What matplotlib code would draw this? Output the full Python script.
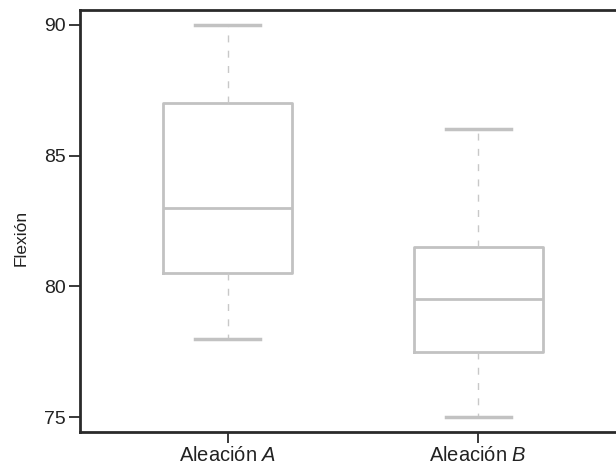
import matplotlib
import matplotlib.pyplot as plt

matplotlib.use('Agg')

plt.rcParams['font.family'] = ['Liberation Sans', 'DejaVu Sans']
plt.rcParams['mathtext.fontset'] = 'custom'
plt.rcParams['mathtext.rm'] = 'Liberation Sans'
plt.rcParams['mathtext.it'] = 'Liberation Sans:italic'

# box statistics
labels = ['Aleación $\\mathit{A}$', 'Aleación $\\mathit{B}$']
whislo = [78, 75]
q1 = [80.5, 77.5]
med = [83, 79.5]
q3 = [87, 81.5]
whishi = [90, 86]
yticks = [75, 80, 85, 90]

stats = []
for i in range(len(labels)):
    stats.append({'label': labels[i], 'whislo': whislo[i], 'q1': q1[i],
                  'med': med[i], 'q3': q3[i], 'whishi': whishi[i], 'fliers': []})

fig = plt.figure(figsize=(6.16, 4.68), dpi=100)
ax = fig.add_axes([80 / 616, 1 - 432 / 468, 1 - 80 / 616, 422 / 468])

box_col = '#c2c2c2'
ax.bxp(stats, positions=[1, 2], widths=0.516, showfliers=False,
       boxprops=dict(color=box_col, linewidth=2),
       medianprops=dict(color=box_col, linewidth=2),
       whiskerprops=dict(color='#c8c8c8', linewidth=1, linestyle=(0, (5, 6))),
       capprops=dict(color=box_col, linewidth=2.5))

ax.set_xlim(0.41, 2.55)
ax.set_ylim(74.43, 90.57)
ax.set_yticks(yticks)
ax.set_ylabel('Flexión', fontsize=12.5, color='#222222')
ax.yaxis.set_label_coords(-0.095, 0.46)

for side in ['left', 'bottom', 'top']:
    ax.spines[side].set_linewidth(2)
    ax.spines[side].set_color('#2a2a2a')
ax.spines['right'].set_visible(False)
ax.tick_params(axis='both', length=8, width=1.3, color='#2a2a2a',
               labelcolor='#222222', pad=2)
ax.tick_params(axis='y', labelsize=14)
ax.tick_params(axis='x', labelsize=14.5)

plt.savefig('out.png', dpi=100)
